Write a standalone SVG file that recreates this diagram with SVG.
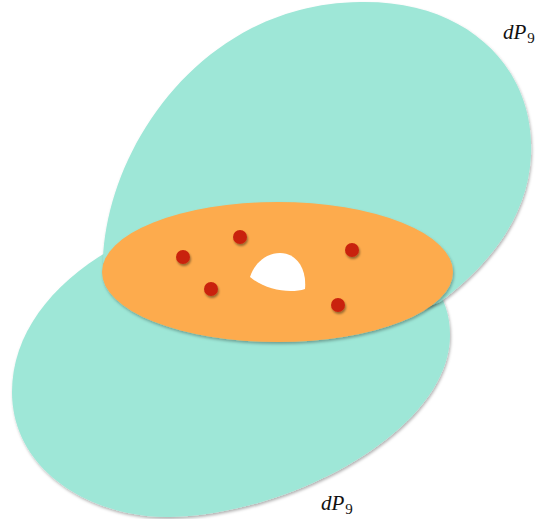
<svg xmlns="http://www.w3.org/2000/svg" width="544" height="519" viewBox="0 0 544 519">
<defs>
<filter id="sh" x="-10%" y="-10%" width="120%" height="120%">
<feDropShadow dx="1" dy="2" stdDeviation="1.5" flood-color="#000" flood-opacity="0.3"/>
</filter>
<filter id="dsh" x="-50%" y="-50%" width="200%" height="200%">
<feDropShadow dx="1" dy="2" stdDeviation="1.2" flood-color="#000" flood-opacity="0.4"/>
</filter>
</defs>
<style>
.teal{fill:#9ee7d7;}
.dot{fill:#c9230b;}
.lbl{font-family:"Liberation Serif",serif;font-style:italic;font-size:21px;fill:#111;}
.sub{font-family:"Liberation Serif",serif;font-size:15px;fill:#111;}
</style>
<g id="lower-region" filter="url(#sh)">
<path class="teal" d="M 110,250 C 50,285 12,335 12,392 C 12,470 90,518 170,517 C 290,515 450,430 450,335 C 450,295 425,262 380,246 C 300,228 160,228 110,250 Z"/>
</g>
<g id="upper-region" filter="url(#sh)">
<path class="teal" d="M 103,262 C 106,150 200,4 360,2 C 470,0 535,70 531,155 C 528,220 485,268 440,302 C 380,330 150,320 103,262 Z"/>
</g>
<g id="core" filter="url(#sh)">
<ellipse cx="277.5" cy="272" rx="175.5" ry="70" fill="#fdab4d"/>
</g>
<g id="hole">
<path d="M 250,277 C 255,262 267,253 280,253 C 296,253 307,268 305,289 C 290,294 265,290 250,277 Z" fill="#fff"/>
</g>
<g id="points" filter="url(#dsh)">
<circle class="dot" cx="183" cy="257" r="7"/>
<circle class="dot" cx="240" cy="237" r="7"/>
<circle class="dot" cx="352" cy="250" r="7"/>
<circle class="dot" cx="211" cy="289" r="7"/>
<circle class="dot" cx="338" cy="305" r="7"/>
</g>
<g id="connectors"></g>
<g id="labels">
<text class="lbl" x="503" y="39">dP<tspan class="sub" dx="1" dy="4" font-style="normal">9</tspan></text>
<text class="lbl" x="321" y="510">dP<tspan class="sub" dx="1" dy="4" font-style="normal">9</tspan></text>
</g>
</svg>
